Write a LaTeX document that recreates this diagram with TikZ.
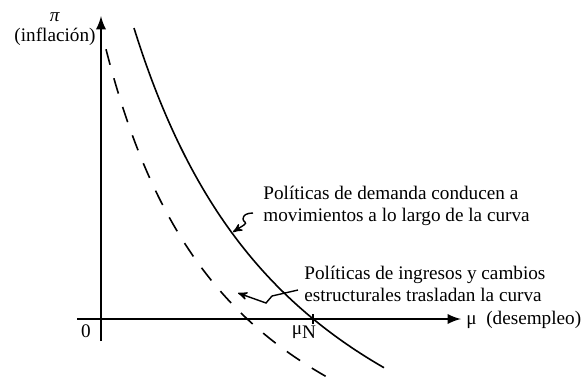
\documentclass[tikz,border=0pt]{standalone}
\usepackage{fontspec}
\setmainfont{Liberation Serif}
\usetikzlibrary{arrows}

\tikzset{
  axis/.style={line width=1.3pt, -latex},
  curve/.style={line width=0.8pt},
  shifted/.style={curve, dash pattern=on 8pt off 7pt},
  pointer/.style={line width=0.7pt, -stealth'},
  lbl/.style={font=\fontsize{9.6}{11}\selectfont, inner sep=0pt, align=left},
}

\begin{document}
\begin{tikzpicture}[x=0.5pt, y=-0.5pt]
  \useasboundingbox (0,0) rectangle (585,377);
  \coordinate (x0) at (77,319);
  \coordinate (x1) at (461,319);
  \coordinate (y0) at (101,341);
  \coordinate (y1) at (101,16);
  \coordinate (uN) at (313,319);
  \draw[axis] (x0) -- (x1);
  \draw[axis] (y0) -- (y1);
  \draw[curve] ([yshift=2.5pt]uN) -- ([yshift=-2.5pt]uN);

  \node[lbl] (pi) at (55,17) {\textit{π}};
  \node[lbl] (infl) at (55,37) {(inflación)};
  \node[lbl, anchor=west] (mu) at (466,320) {μ\ \ (desempleo)};
  \node[lbl] (zero) at (86,331) {0};
  \node[lbl] (muN) at (304,332) {μ\raisebox{-0.45ex}{N}};

  % curva original y curva trasladada
  \draw[curve] plot[domain=134:384, samples=60, smooth]
    (\x, {617.7-1085/((\x+50)/100)});
  \draw[shifted] plot[domain=106:327, samples=60, smooth]
    (\x, {578.7-720/((\x+30)/100)});

  \node[lbl, anchor=west] (dem) at (263,206)
    {Políticas de demanda conducen a\\movimientos a lo largo de la curva};
  \node[lbl, anchor=west] (ing) at (304,284)
    {Políticas de ingresos y cambios\\estructurales trasladan la curva};

  \coordinate (a1) at (253,213);
  \coordinate (t1) at (233,232);
  \coordinate (a2) at (298,290);
  \coordinate (t2) at (238,293);
  \draw[pointer] (a1) .. controls (247,213) and (243,215) .. (243,219)
    .. controls (243,222) and (248,222) .. (244,225) -- (t1);
  \draw[pointer] (a2) -- (272,296) -- (266,303) -- (t2);
\end{tikzpicture}
\end{document}
